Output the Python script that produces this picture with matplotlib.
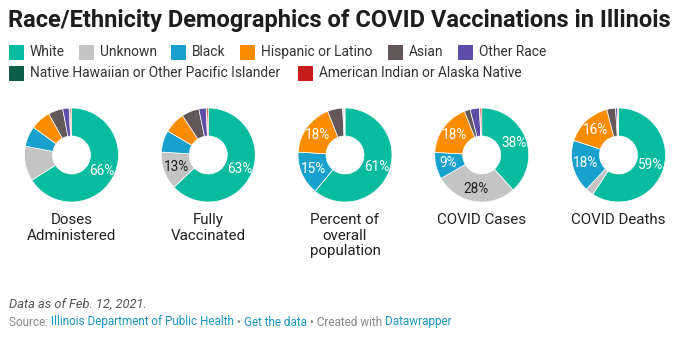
import matplotlib
matplotlib.use("Agg")
import matplotlib.pyplot as plt
from matplotlib.patches import Rectangle
import numpy as np

# race/ethnicity categories, in slice order
categories = ['White', 'Unknown', 'Black', 'Hispanic or Latino', 'Asian', 'Other Race',
              'Native Hawaiian or Other Pacific Islander', 'American Indian or Alaska Native']
colors = ['#09bb9f', '#c4c4c4', '#18a1cd', '#fa8c00', '#635759', '#5e4da6', '#0b5e47', '#c71e1d']

chart_titles = ['Doses\nAdministered', 'Fully\nVaccinated', 'Percent of\noverall\npopulation',
                'COVID Cases', 'COVID Deaths']

# shares in percent, same order as categories
doses = [66, 12, 7, 7, 5, 2.2, 0.3, 0.5]
fully_vaccinated = [63, 13, 7.5, 7.3, 6, 2.5, 0.2, 0.5]
population = [61, 0, 15, 18, 5.2, 0.4, 0.1, 0.3]
cases = [38.4, 28.3, 9.2, 18.1, 2.0, 3.2, 0.2, 0.6]
deaths = [59.2, 2.8, 18, 16, 3, 0.6, 0.1, 0.3]
series = [doses, fully_vaccinated, population, cases, deaths]

# which slices carry a value label in each donut
labeled = [['White'],
           ['White', 'Unknown'],
           ['White', 'Black', 'Hispanic or Latino'],
           ['White', 'Unknown', 'Black', 'Hispanic or Latino'],
           ['White', 'Black', 'Hispanic or Latino']]

W, H = 680, 345
plt.rcParams['font.family'] = ['Roboto', 'DejaVu Sans']
fig = plt.figure(figsize=(W / 100, H / 100), dpi=100)
fig.patch.set_facecolor('white')


def fx(x):
    return x / W


def fy(y):
    return 1 - y / H


fig.text(fx(8), fy(20), 'Race/Ethnicity Demographics of COVID Vaccinations in Illinois',
         fontsize=17, fontweight='bold', color='#1d1d1d', va='center', ha='left')

# legend
legend_rows = [[(0, 9), (1, 79), (2, 171), (3, 240), (4, 388), (5, 458)],
               [(6, 9), (7, 298)]]
for row_y, row in zip([52, 73], legend_rows):
    for idx, x in row:
        fig.patches.append(Rectangle((fx(x), fy(row_y + 7.5)), 15 / W, 15 / H,
                                     transform=fig.transFigure, facecolor=colors[idx],
                                     edgecolor='none'))
        fig.text(fx(x + 21), fy(row_y), categories[idx], fontsize=9.9, color='#333333',
                 va='center', ha='left')

# donuts
R, ring = 47, 28
for i, (vals, title, lab) in enumerate(zip(series, chart_titles, labeled)):
    cx = 71.5 + 136.75 * i
    cy = 155
    ax = fig.add_axes([fx(cx - 50), fy(cy + 50), 100 / W, 100 / H])
    wedges, _ = ax.pie(vals, colors=colors, radius=R, startangle=90, counterclock=False,
                       wedgeprops=dict(width=ring, edgecolor='white', linewidth=0.5))
    ax.set_xlim(-50, 50)
    ax.set_ylim(-50, 50)
    ax.set_aspect('equal')
    ax.axis('off')
    total = float(sum(vals))
    for w, cat, v in zip(wedges, categories, vals):
        if cat not in lab:
            continue
        ang = np.deg2rad((w.theta1 + w.theta2) / 2)
        r = R - ring / 2 + 1
        tc = '#222222' if cat == 'Unknown' else 'white'
        ax.text(r * np.cos(ang), r * np.sin(ang), '%d%%' % round(100 * v / total),
                fontsize=9.8, color=tc, ha='center', va='center')
    fig.text(fx(cx), fy(213), title, fontsize=10.9, color='#222222', ha='center', va='top',
             linespacing=1.15)

fig.text(fx(9), fy(304), 'Data as of Feb. 12, 2021.', fontsize=9.3, style='italic',
         color='#555555', va='center', ha='left')

# source line, pieces in alternating colors
pieces = [('Source: ', '#888888'), ('Illinois Department of Public Health', '#1b95c0'),
          (' \u2022 ', '#888888'), ('Get the data', '#1b95c0'),
          (' \u2022 Created with ', '#888888'), ('Datawrapper', '#1b95c0')]
renderer = fig.canvas.get_renderer()
x = 9
for s, c in pieces:
    t = fig.text(fx(x), fy(322), s, fontsize=8.5, color=c, va='center', ha='left')
    x += t.get_window_extent(renderer).width

fig.savefig('out.png', dpi=100)
